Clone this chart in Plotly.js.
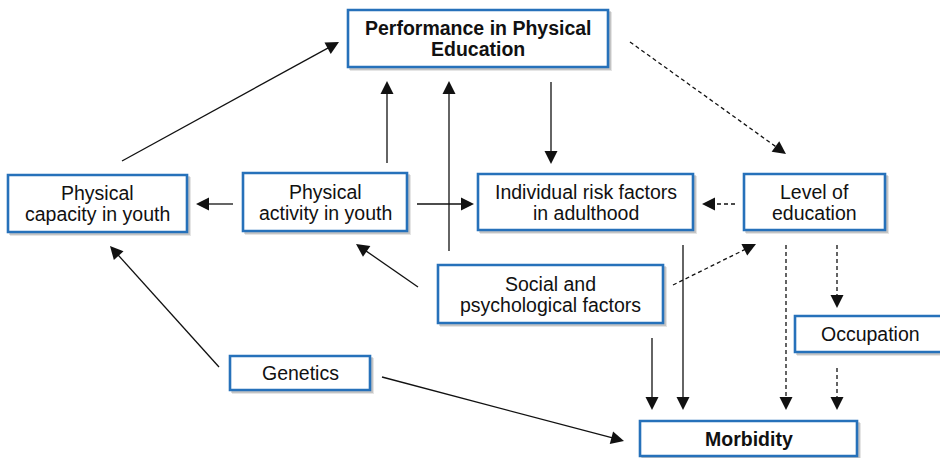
<!DOCTYPE html>
<html><head><meta charset="utf-8">
<script src="https://cdn.plot.ly/plotly-3.0.1.min.js"></script>
<style>html,body{margin:0;padding:0;background:#fff}#c{width:940px;height:458px}</style>
</head><body><div id="c"></div>
<script>
// ---- content (data) ----
var nodeIds = ["perf","capacity","activity","risk","level","social","occupation","genetics","morbidity"];
var nodeLabels = ["Performance in Physical<br>Education","Physical<br>capacity in youth","Physical<br>activity in youth",
  "Individual risk factors<br>in adulthood","Level of<br>education","Social and<br>psychological factors",
  "Occupation","Genetics","Morbidity"];
var nodeBold = [true,false,false,false,false,false,false,false,true];
var edgeFrom = ["capacity","activity","social","perf","perf","activity","activity","level","social","genetics","genetics","social","risk","social","level","level","occupation"];
var edgeTo   = ["perf","perf","perf","risk","level","capacity","risk","risk","activity","capacity","morbidity","morbidity","morbidity","level","morbidity","occupation","morbidity"];
var edgeDashed = [false,false,false,false,true,false,false,true,false,false,false,false,false,true,true,true,true];

// ---- layout geometry (pixel positions, not data) ----
var boxGeom = { // x0,x1,y0,y1
  perf:[348,608,10,67], capacity:[8,187,175,232], activity:[243,407,173,231],
  risk:[478,693,174,230], level:[744,885,174,230], social:[438,663,265,323],
  occupation:[795,946,316,352], genetics:[230,370,356,390], morbidity:[640,857,421,456]
};
var edgeGeom = [ // tail x,y -> tip x,y
  [122,161,339,42],[387,163,387,81],[449,251,449,81],[551,82,551,164],[630,42,786,154],
  [233,204,196,204],[417,204,474,204],[735,204,702,204],[418,287,356,244],[219,367,110,246],
  [382,377,624,441],[652,338,652,410],[683,245,683,410],[673,285,756,244],[786,245,786,410],
  [837,245,837,308],[837,368,837,410]
];

var shapes = [], annotations = [];
var BLUE = "#2671BA";
var LH = 21;
nodeIds.forEach(function(id,i){
  var g = boxGeom[id];
  shapes.push({type:"rect",xref:"x",yref:"y",x0:g[0]+2,x1:g[1]+4,y0:g[2]+2,y1:g[3]+4,line:{width:0},fillcolor:"rgba(0,0,0,0.10)"});
  shapes.push({type:"rect",xref:"x",yref:"y",x0:g[0]+1,x1:g[1]+3,y0:g[2]+1,y1:g[3]+3,line:{width:0},fillcolor:"rgba(0,0,0,0.14)"});
  shapes.push({type:"rect",xref:"x",yref:"y",x0:g[0],x1:g[1],y0:g[2],y1:g[3],line:{color:BLUE,width:2.6},fillcolor:"#ffffff"});
  var lines = nodeLabels[i].split("<br>");
  var cx = (g[0]+Math.min(g[1],945))/2, cy = (g[2]+g[3])/2;
  lines.forEach(function(t,k){
    annotations.push({xref:"x",yref:"y",x:cx,y:cy+(k-(lines.length-1)/2)*LH,
      text:nodeBold[i]?"<b>"+t+"</b>":t,showarrow:false,yanchor:"middle",
      font:{family:"Liberation Sans, Arial, sans-serif",size:19.5,color:"#111"},align:"center"});
  });
});
edgeFrom.forEach(function(f,i){
  var e = edgeGeom[i];
  var dx = e[2]-e[0], dy = e[3]-e[1], L = Math.sqrt(dx*dx+dy*dy), ux = dx/L, uy = dy/L;
  shapes.push({type:"line",xref:"x",yref:"y",x0:e[0],y0:e[1],x1:e[2]-ux*5,y1:e[3]-uy*5,
    line:{color:"#111",width:1.3,dash:edgeDashed[i]?"4px,3px":"solid"}});
  annotations.push({xref:"x",yref:"y",axref:"x",ayref:"y",x:e[2],y:e[3],ax:e[2]-ux*8,ay:e[3]-uy*8,text:"",
    showarrow:true,arrowhead:2,arrowsize:2,arrowwidth:1.3,arrowcolor:"#111",standoff:0});
});

var layout = {
  width:940,height:458,margin:{l:0,r:0,t:0,b:0},paper_bgcolor:"#fff",plot_bgcolor:"#fff",showlegend:false,
  xaxis:{range:[0,940],visible:false,fixedrange:true},
  yaxis:{range:[458,0],visible:false,fixedrange:true},
  shapes:shapes,annotations:annotations
};
Plotly.newPlot("c",[{x:[],y:[],type:"scatter"}],layout,{staticPlot:true});
</script></body></html>
